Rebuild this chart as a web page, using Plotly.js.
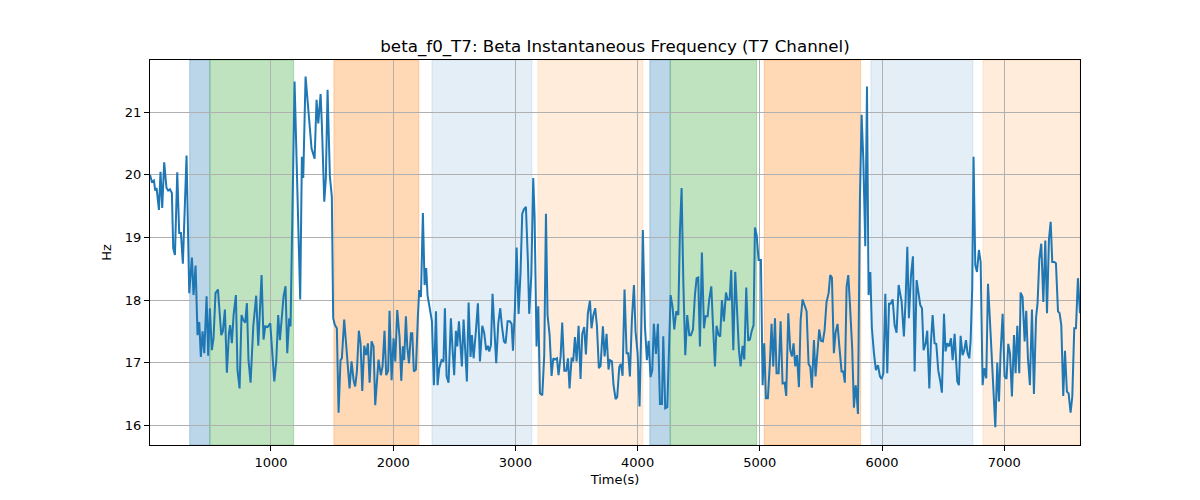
<!DOCTYPE html>
<html>
<head>
<meta charset="utf-8">
<script src="https://cdn.plot.ly/plotly-3.0.1.min.js"></script>
<style>html,body{margin:0;padding:0;background:#fff}#chart{width:1200px;height:500px}</style>
</head>
<body>
<div id="chart"></div>
<script>
// Time (s) of each sample
const timeSec = [
10,25,42,53,64,83,96,110,126,145,159,173,189,200,214,233,249,263,279,309,331,353,366,383,399,413,426,440,454,473,486,500,516,530,546,566,593,606,623,639,656,666,680,694,713,726,743,759,773,789,803,816,833,855,879,896,923,939,953,972,994,1010,1027,1043,1059,1073,1089,1103,1119,1133,1149,1160,1193,1239,1253,1264,1283,
1305,1332,1357,1373,1387,1406,1417,1436,1449,1463,1482,1498,1509,1523,1539,1553,1569,1580,1599,1618,1643,1659,1676,1689,1703,1719,1733,1747,1763,1779,1793,1807,1823,1839,1853,1880,1899,1913,1929,1943,1959,1970,1987,2003,2017,2033,2052,2066,2079,2090,2104,2115,2129,2145,2156,2169,2186,2202,2213,2227,2243,2257,2270,2281,2300,2317,2333,2350,2363,2377,2396,2412,2423,2437,2453,
2472,2486,2499,2513,2524,2538,2562,2576,2589,2603,2617,2633,2644,2658,2677,2693,2710,2729,2745,2761,2775,2786,2800,2813,2827,2843,2860,2876,2890,2906,2920,2936,2955,2969,2980,2996,3010,3026,3042,3056,3070,3086,3102,3113,3130,3146,3157,3173,3187,3201,3220,3236,3250,3263,3280,3296,3310,3323,3340,3353,3370,3383,3400,3416,3430,3443,3460,3473,3487,3501,3517,3533,3547,3563,3577,3593,3610,3623,3637,3653,3667,3683,3697,
3716,3730,3746,3762,3773,3790,3803,3820,3833,3850,3863,3877,3893,3910,3923,3937,3953,3970,3983,4000,4016,4030,4043,4060,4076,4090,4106,4120,4133,4150,4166,4183,4199,4210,4226,4243,4270,4286,4300,4316,4333,4346,4360,4374,4390,4406,4423,4436,4453,4469,4483,4496,4510,4526,4543,4556,4573,4586,4603,4616,4633,4646,4663,4676,4690,4706,4723,4736,4753,4766,4783,4799,4813,4829,4843,4859,4873,4889,4905,4919,
4933,4949,4960,4974,4990,5009,5023,5036,5050,5066,5083,5096,5110,5124,5137,5154,5170,5186,5203,5216,5233,5249,5263,5276,5290,5304,5320,5334,5350,5366,5383,5399,5413,5426,5443,5456,5473,5486,5500,5516,5530,5546,5563,5576,5590,5606,5620,5636,5650,5669,5683,5696,5710,5724,5737,5756,5770,5784,5792,5803,5819,5833,5847,5863,5877,5890,5904,5917,5934,5950,5967,5983,5997,6011,6027,6043,6057,6070,6087,6103,6119,6136,
6160,6179,6193,6207,6220,6237,6253,6267,6283,6299,6313,6327,6340,6357,6370,6387,6400,6414,6430,6444,6460,6477,6490,6507,6520,6534,6550,6564,6578,6594,6605,6616,6629,6643,6659,6673,6687,6700,6714,6725,6738,6749,6763,6777,6793,6807,6823,6837,6853,6867,6880,6897,6910,6927,6943,6957,6970,6987,7003,7019,7033,7047,7063,7080,7093,7107,7123,7134,7150,7167,7180,7194,7210,7227,7243,7260,7273,7287,7303,7320,7336,7350,7366,7380,7393,7410,7423,7440,7453,7467,7483,7497,7513,7527,7543,7557,7573,7587,7603,7620
];
// Beta instantaneous frequency (Hz), T7 channel
const betaHz = [
20.00,19.89,19.91,19.75,19.79,19.44,20.05,19.47,20.20,19.79,19.75,19.77,19.71,18.83,18.72,20.04,19.07,19.07,18.58,20.31,18.11,18.68,18.08,18.55,17.44,17.65,17.09,17.50,17.15,18.06,17.11,17.87,17.20,17.39,18.11,18.17,17.44,17.50,17.85,16.84,17.47,17.60,17.31,17.76,18.08,16.88,16.59,17.76,17.68,17.64,17.95,17.04,16.68,17.58,18.07,17.27,18.40,17.37,17.58,17.57,17.63,17.15,16.70,17.02,17.76,17.36,17.82,18.06,18.22,17.15,17.71,17.58,21.49,18.01,20.29,19.95,21.57,
21.04,20.42,20.26,21.20,20.82,21.29,20.77,19.57,19.95,21.36,19.97,19.65,17.71,17.60,17.55,16.20,17.04,17.07,17.69,17.15,16.59,17.02,16.72,16.62,16.86,17.51,17.31,16.55,17.27,17.12,17.31,16.68,17.34,17.26,16.32,17.05,16.80,16.94,17.51,16.80,16.87,17.83,16.72,17.39,17.02,17.84,17.41,16.71,17.26,17.04,17.74,17.26,16.99,17.47,17.47,16.86,16.89,17.74,18.16,18.05,19.39,18.24,18.51,18.08,17.87,17.66,16.64,17.82,16.64,16.91,17.04,17.02,17.87,16.78,16.68,
17.71,17.20,16.80,17.51,17.26,17.66,16.94,17.69,17.10,16.70,17.96,17.09,17.44,17.07,17.51,17.95,17.02,17.59,17.47,17.20,17.27,17.18,17.28,18.10,17.58,16.99,17.63,17.87,17.58,17.34,17.31,17.66,17.66,17.62,17.19,17.87,18.84,17.78,18.43,19.38,19.45,19.49,18.64,17.78,18.39,19.95,19.33,17.26,17.90,16.51,16.48,17.12,19.38,17.76,17.44,16.79,17.07,17.05,17.07,16.80,17.10,17.64,16.87,16.87,17.07,16.59,17.08,17.02,17.41,17.02,17.59,16.74,17.46,17.57,17.13,17.79,17.99,17.55,17.75,17.87,17.59,16.91,16.95,
17.58,17.10,17.46,16.89,17.04,17.02,16.64,16.42,16.45,16.93,16.98,16.79,18.17,17.15,17.15,16.78,17.68,18.24,17.50,17.15,16.30,17.58,19.12,17.58,17.04,17.35,16.77,16.88,17.62,17.14,17.62,16.34,16.34,17.42,16.27,16.29,18.08,17.89,17.53,17.82,17.76,19.07,19.79,18.30,17.12,17.76,17.44,17.44,17.53,18.08,18.35,18.36,17.26,18.76,17.55,17.74,17.74,18.01,18.22,17.63,16.94,17.59,17.44,17.42,18.00,17.66,18.12,18.01,18.01,18.48,17.20,18.45,17.79,17.20,16.94,17.27,17.05,18.20,17.35,17.37,
17.50,17.60,19.16,19.04,18.64,18.64,16.64,17.31,16.43,16.43,17.02,17.62,16.94,17.71,16.83,16.83,17.66,16.67,16.68,16.47,17.79,17.20,17.10,17.31,16.94,17.12,16.61,17.68,18.01,17.91,17.82,16.98,16.93,16.60,17.36,16.78,17.19,17.53,17.35,17.34,17.52,17.97,18.11,18.40,18.36,17.15,17.48,17.62,17.28,16.86,16.86,16.68,18.21,18.40,17.95,17.23,16.28,16.64,16.51,16.18,19.60,20.96,20.24,18.86,21.41,18.08,18.45,17.55,17.15,16.88,16.96,16.78,16.74,16.83,18.10,16.83,17.94,17.94,18.01,17.60,17.48,18.24,
17.98,17.42,18.01,18.85,17.71,18.40,18.70,16.86,18.32,18.11,17.92,17.87,17.20,17.31,17.51,16.59,17.32,17.76,17.31,17.30,16.88,16.70,16.52,17.78,17.18,17.31,17.26,17.39,17.04,17.46,17.07,16.70,16.64,17.43,17.12,17.20,17.36,17.15,17.07,17.35,18.19,20.29,18.56,18.45,18.80,18.61,16.64,16.91,16.75,18.26,17.79,17.04,16.68,15.97,17.00,16.38,17.15,17.78,16.78,16.74,17.30,17.15,16.46,17.44,16.83,17.59,16.83,18.12,18.05,17.34,17.83,17.07,16.64,17.85,16.50,17.71,17.96,18.65,18.90,17.97,18.95,17.79,18.97,19.25,18.61,18.61,18.59,17.82,17.79,17.60,16.47,17.19,16.54,16.51,16.20,16.46,17.55,17.55,18.35,17.79
];
// Shaded epochs (start, end in seconds) and their kind
const spanStart = [335, 500, 1515, 2317, 3184, 4100, 4267, 5036, 5909, 6826];
const spanEnd   = [500, 1185, 2210, 3135, 4043, 4267, 4974, 5825, 6744, 7620];
const spanKind  = ['blue', 'green', 'orange', 'lightblue', 'lightorange', 'blue', 'green', 'orange', 'lightblue', 'lightorange'];

const kindColor = {
  blue: 'rgba(31,119,180,0.3)',
  green: 'rgba(44,160,44,0.3)',
  orange: 'rgba(255,127,14,0.3)',
  lightblue: 'rgba(31,119,180,0.12)',
  lightorange: 'rgba(255,127,14,0.15)'
};

const shapes = spanStart.map((s, i) => ({
  type: 'rect', xref: 'x', yref: 'paper', x0: s, x1: spanEnd[i], y0: 0, y1: 1,
  fillcolor: kindColor[spanKind[i]],
  line: {color: kindColor[spanKind[i]], width: 1},
  layer: 'below'
}));

const font = {family: 'DejaVu Sans, sans-serif', color: '#000'};

Plotly.newPlot('chart', [{
  x: timeSec, y: betaHz, type: 'scatter', mode: 'lines',
  line: {color: '#1f77b4', width: 2}, hoverinfo: 'skip'
}], {
  width: 1200, height: 500,
  margin: {l: 150, r: 120, t: 60, b: 55},
  paper_bgcolor: '#fff', plot_bgcolor: '#fff',
  showlegend: false,
  font: Object.assign({size: 13}, font),
  title: {text: 'beta_f0_T7: Beta Instantaneous Frequency (T7 Channel)', font: Object.assign({size: 16.7}, font),
          x: 0.5, xref: 'paper', y: 0.908, yref: 'container', yanchor: 'middle'},
  xaxis: {
    range: [10, 7620], tick0: 0, dtick: 1000, ticks: 'outside', ticklen: 5, tickwidth: 1, tickcolor: '#000',
    showline: true, mirror: true, linecolor: '#000', linewidth: 1,
    showgrid: true, gridcolor: '#b0b0b0', gridwidth: 1, zeroline: false,
    title: {text: 'Time(s)', font: Object.assign({size: 13}, font), standoff: 6},
    tickfont: Object.assign({size: 13}, font)
  },
  yaxis: {
    range: [15.685, 21.835], tick0: 0, dtick: 1, ticks: 'outside', ticklen: 5, tickwidth: 1, tickcolor: '#000',
    showline: true, mirror: true, linecolor: '#000', linewidth: 1,
    showgrid: true, gridcolor: '#b0b0b0', gridwidth: 1, zeroline: false,
    title: {text: 'Hz', font: Object.assign({size: 13}, font), standoff: 10},
    tickfont: Object.assign({size: 13}, font)
  },
  shapes: shapes
}, {staticPlot: true, displayModeBar: false});
</script>
</body>
</html>
